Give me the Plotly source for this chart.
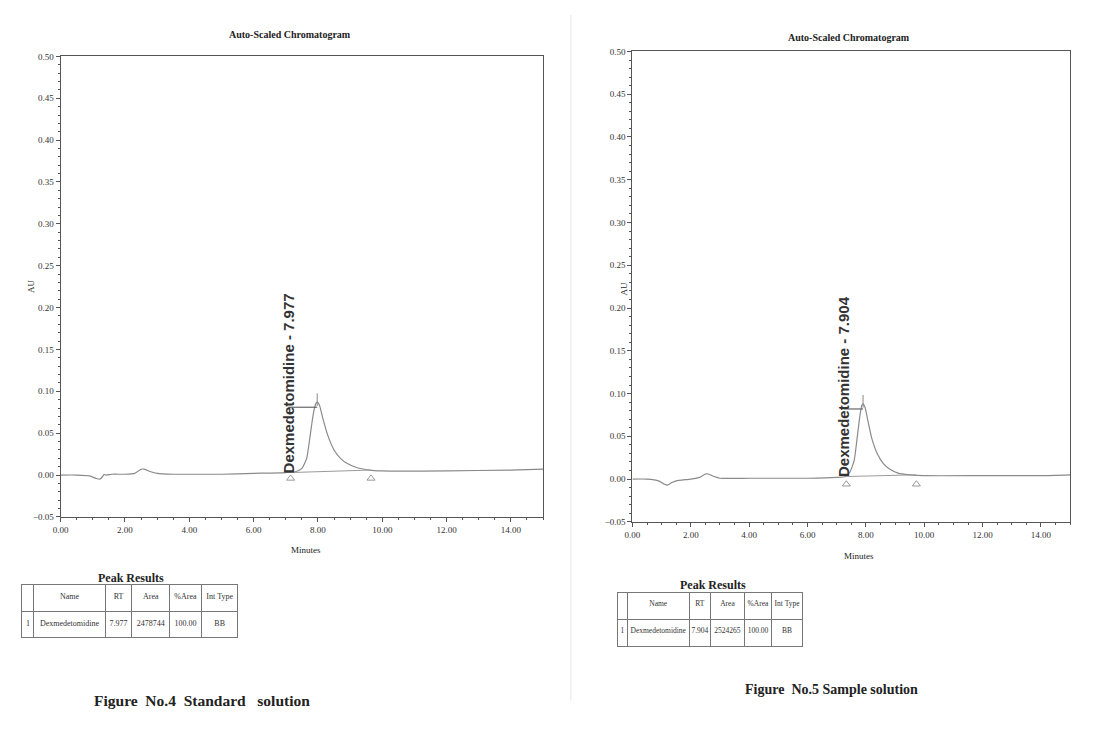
import plotly.graph_objects as go

W, H = 1084, 723   # page body margin (8px) keeps the figure inside a 1100x739 window
OFF = 8

# ---------------- data ----------------
std_time = [0.0, 0.5, 0.9, 1.1, 1.2, 1.3, 1.35, 1.4, 1.6, 2.0, 2.3, 2.5, 2.6, 2.8, 3.0, 3.5, 4.0, 5.0, 6.0, 7.0,
            7.3, 7.5, 7.65, 7.75, 7.85, 7.93, 7.98, 8.05, 8.15, 8.3, 8.5, 8.7, 8.9, 9.2, 9.6, 10.0, 12.0, 14.0, 15.0]
std_au = [0.000, 0.000, -0.001, -0.004, -0.005, -0.002, 0.001, 0.000, 0.001, 0.001, 0.002, 0.007, 0.007, 0.004,
          0.002, 0.001, 0.001, 0.001, 0.002, 0.003, 0.004, 0.008, 0.020, 0.045, 0.072, 0.085, 0.087, 0.083, 0.068,
          0.048, 0.030, 0.020, 0.014, 0.009, 0.006, 0.005, 0.005, 0.006, 0.007]

smp_time = [0.0, 0.5, 0.9, 1.1, 1.2, 1.35, 1.5, 2.0, 2.3, 2.5, 2.6, 2.8, 3.0, 4.0, 5.0, 6.0, 7.0, 7.3, 7.45,
            7.6, 7.7, 7.8, 7.86, 7.90, 7.97, 8.07, 8.2, 8.4, 8.6, 8.8, 9.1, 9.5, 10.0, 12.0, 14.0, 15.0]
smp_au = [0.000, 0.000, -0.002, -0.006, -0.007, -0.004, -0.002, 0.000, 0.002, 0.006, 0.006, 0.003, 0.001, 0.001,
          0.001, 0.001, 0.002, 0.003, 0.008, 0.022, 0.048, 0.075, 0.086, 0.088, 0.084, 0.068, 0.048, 0.029, 0.018,
          0.012, 0.007, 0.005, 0.004, 0.004, 0.004, 0.005]

peak_name = "Dexmedetomidine"
std_rt, smp_rt = 7.977, 7.904
std_bounds_t, std_bounds_au = [7.15, 9.65], [0.003, 0.006]
smp_bounds_t, smp_bounds_au = [7.33, 9.73], [0.003, 0.005]
std_label_t, smp_label_t = 7.08, 7.23
std_apex_au, smp_apex_au = 0.087, 0.088
std_hline_au, smp_hline_au = 0.081, 0.082

table_header = ["", "Name", "RT", "Area", "%Area", "Int\u00a0Type"]
std_row = ["1", "Dexmedetomidine", "7.977", "2478744", "100.00", "BB"]
smp_row = ["1", "Dexmedetomidine", "7.904", "2524265", "100.00", "BB"]

x_ticks = [0, 2, 4, 6, 8, 10, 12, 14]
y_ticks = [-0.05, 0.00, 0.05, 0.10, 0.15, 0.20, 0.25, 0.30, 0.35, 0.40, 0.45, 0.50]

# ---------------- layout helpers (window pixel -> paper fraction) ----------------
def px_x(p): return (p - OFF) / W
def px_y(p): return 1 - (p - OFF) / H

SERIF = "Liberation Serif, Times New Roman, serif"
LINE = "#8a8a8a"
AXC = "#555555"

fig = go.Figure()

panels = [
    dict(xa="x", ya="y", t=std_time, a=std_au, rt=std_rt, bt=std_bounds_t, ba=std_bounds_au,
         lt=std_label_t, apex=std_apex_au, hl=std_hline_au, tri=-0.004),
    dict(xa="x2", ya="y2", t=smp_time, a=smp_au, rt=smp_rt, bt=smp_bounds_t, ba=smp_bounds_au,
         lt=smp_label_t, apex=smp_apex_au, hl=smp_hline_au, tri=-0.006),
]

for p in panels:
    fig.add_trace(go.Scatter(x=p["t"], y=p["a"], mode="lines", xaxis=p["xa"], yaxis=p["ya"],
                             line=dict(color=LINE, width=1.2, shape="spline", smoothing=0.5),
                             showlegend=False, hoverinfo="skip"))
    fig.add_trace(go.Scatter(x=p["bt"], y=p["ba"], mode="lines", xaxis=p["xa"], yaxis=p["ya"],
                             line=dict(color="#9a9a9a", width=1), showlegend=False, hoverinfo="skip"))
    fig.add_trace(go.Scatter(x=p["bt"], y=[p["tri"], p["tri"]], mode="markers", xaxis=p["xa"], yaxis=p["ya"],
                             marker=dict(symbol="triangle-up-open", size=7, color="#999999", line=dict(width=1)),
                             showlegend=False, hoverinfo="skip"))
    fig.add_trace(go.Scatter(x=[p["rt"]], y=[p["apex"] + 0.003], mode="markers", xaxis=p["xa"], yaxis=p["ya"],
                             marker=dict(symbol="line-ns-open", size=9, color="#888888", line=dict(width=1)),
                             showlegend=False, hoverinfo="skip"))
    fig.add_trace(go.Scatter(x=[p["lt"], p["rt"]], y=[p["hl"], p["hl"]], mode="lines",
                             xaxis=p["xa"], yaxis=p["ya"], line=dict(color="#666666", width=1.2),
                             showlegend=False, hoverinfo="skip"))
    fig.add_annotation(x=p["lt"], y=0.0, xref=p["xa"], yref=p["ya"], text=f"<b>{peak_name} - {p['rt']:.3f}</b>",
                       textangle=-90, showarrow=False, xanchor="center", yanchor="bottom",
                       font=dict(family="Liberation Sans, Arial, sans-serif", size=15, color="#333333"))

axis_common = dict(showline=True, linecolor=AXC, linewidth=1, mirror=True, showgrid=False, zeroline=False,
                   ticks="outside", ticklen=4, tickcolor=AXC, tickformat=".2f",
                   tickfont=dict(family=SERIF, size=9, color="#333333"))

fig.update_layout(
    width=W, height=H, margin=dict(l=0, r=0, t=0, b=0),
    paper_bgcolor="white", plot_bgcolor="white", showlegend=False,
    xaxis=dict(domain=[px_x(53), px_x(539)], range=[0, 15], anchor="y", tickvals=x_ticks,
               minor=dict(dtick=0.5, ticks="outside", ticklen=2, tickcolor=AXC), **axis_common),
    yaxis=dict(domain=[px_y(519), px_y(52)], range=[-0.05, 0.50], anchor="x", tickvals=y_ticks,
               minor=dict(dtick=0.01, ticks="outside", ticklen=2, tickcolor=AXC), **axis_common),
    xaxis2=dict(domain=[px_x(629), px_x(1070)], range=[0, 15], anchor="y2", tickvals=x_ticks,
                minor=dict(dtick=0.5, ticks="outside", ticklen=2, tickcolor=AXC), **axis_common),
    yaxis2=dict(domain=[px_y(524), px_y(47)], range=[-0.05, 0.50], anchor="x2", tickvals=y_ticks,
                minor=dict(dtick=0.01, ticks="outside", ticklen=2, tickcolor=AXC), **axis_common),
)

def ptext(x, y, text, size=10, bold=False, angle=0, family=SERIF):
    fig.add_annotation(x=px_x(x), y=px_y(y), xref="paper", yref="paper",
                       text=f"<b>{text}</b>" if bold else text, showarrow=False, textangle=angle,
                       xanchor="center", yanchor="middle", font=dict(family=family, size=size, color="#222222"))

ptext(284, 30, "Auto-Scaled Chromatogram", 10, True)
ptext(847, 33, "Auto-Scaled Chromatogram", 10, True)
ptext(23, 285, "AU", 9, False, -90)
ptext(621, 287, "AU", 9, False, -90)
ptext(300, 553, "Minutes", 9)
ptext(857, 559, "Minutes", 9)
ptext(124, 581, "Peak Results", 12, True)
ptext(710, 588, "Peak Results", 12, True)
ptext(195, 705, "Figure&nbsp;&nbsp;No.4&nbsp;&nbsp;Standard&nbsp;&nbsp;&nbsp;solution", 15.5, True)
ptext(830, 694, "Figure&nbsp;&nbsp;No.5&nbsp;Sample&nbsp;solution", 14, True)

fig.add_shape(type="line", xref="paper", yref="paper", x0=px_x(567), x1=px_x(567), y0=px_y(10), y1=px_y(705),
              line=dict(color="#e4e4e4", width=1))

def add_table(row, x0, x1, y0, y1, widths, hh, ch, fs):
    fig.add_trace(go.Table(
        domain=dict(x=[px_x(x0), px_x(x1)], y=[px_y(y1), px_y(y0)]),
        columnwidth=widths,
        header=dict(values=table_header, height=hh, align="center", fill_color="white",
                    line=dict(color="#777777", width=1), font=dict(family=SERIF, size=fs, color="#333333")),
        cells=dict(values=[[v] for v in row], height=ch, align="center", fill_color="white",
                   line=dict(color="#777777", width=1), font=dict(family=SERIF, size=fs, color="#333333")),
    ))

add_table(std_row, 14, 232, 588, 645, [12, 72, 27, 38, 32, 37], 27, 26, 8)
add_table(smp_row, 614, 801, 596, 653, [10, 64, 22, 35, 28, 32], 27, 27, 7.5)

fig.write_html("out.html")
